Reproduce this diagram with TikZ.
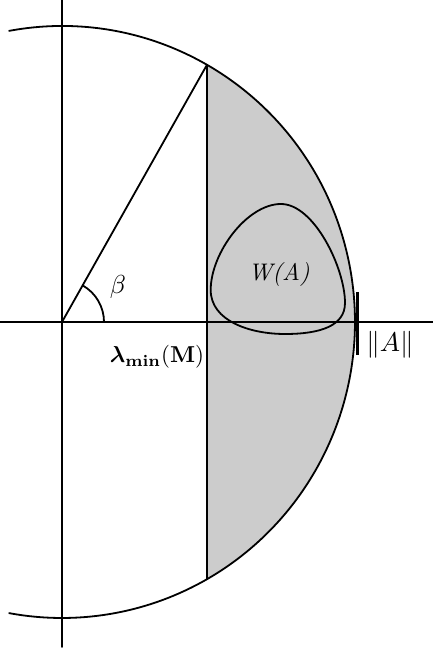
\documentclass[tikz,border=0pt]{standalone}
\usepackage{amsmath}
\usepackage{bm}
\usepackage{graphicx}
\usetikzlibrary{calc}
\begin{document}
\begin{tikzpicture}[x=1pt,y=1pt,
  ln/.style={line width=1.8pt, line cap=round, line join=round},
  shadefill/.style={fill=black!20},
  lbl/.style={inner sep=0pt, outer sep=0pt}]
\useasboundingbox (0,0) rectangle (433,651);
\coordinate (O) at (62,329);
\coordinate (P) at ($(O)+(60.34:293 and 296)$);
\coordinate (Q) at ($(O)+(-60.34:293 and 296)$);
\coordinate (A1) at ($(O)+(100.4:293 and 296)$);
\coordinate (L) at (0,329);
\coordinate (R) at (433,329);
\coordinate (T) at (62,651);
\coordinate (B) at (62,4);
\coordinate (K1) at (357,359);
\coordinate (K2) at (357,296);
\coordinate (WT) at (281,447);
\coordinate (WL) at (210.7,361);
\coordinate (WB) at (285,317);
\coordinate (WR) at (345,348);
% shaded region
\fill[shadefill] (P) arc[start angle=60.34, end angle=-60.34, x radius=293, y radius=296] -- cycle;
% circle arc
\draw[ln] (A1) arc[start angle=100.4, end angle=-100.4, x radius=293, y radius=296];
% axes
\draw[ln] (L) -- (R);
\draw[ln] (T) -- (B);
% lines
\draw[ln] (P) -- (Q);
\draw[ln] (O) -- (P);
% angle arc
\draw[ln] ($(O)+(42,0)$) arc[start angle=0, end angle=60.6, radius=42];
% W(A) blob
\draw[ln] (WT) .. controls (247,447) and (210.7,398) .. (WL)
  .. controls (210.7,330) and (250,317) .. (WB)
  .. controls (320,317) and (345,325) .. (WR)
  .. controls (345,383) and (314,447) .. (WT) -- cycle;
% tick
\draw[line width=3pt] (K1) -- (K2);
% labels
\node[lbl] (beta) at (118,364) {\scalebox{2.6}{$\beta$}};
\node[lbl] (W) at (279,376) {\scalebox{2.4}{\textit{W(A)}}};
\node[lbl, anchor=base] (lam) at (157,288) {\scalebox{2.3}{$\bm{\lambda}_{\mathbf{min}}(\mathbf{M})$}};
\node[lbl] (norm) at (390,306) {\scalebox{2.7}{$\|A\|$}};
\end{tikzpicture}
\end{document}
